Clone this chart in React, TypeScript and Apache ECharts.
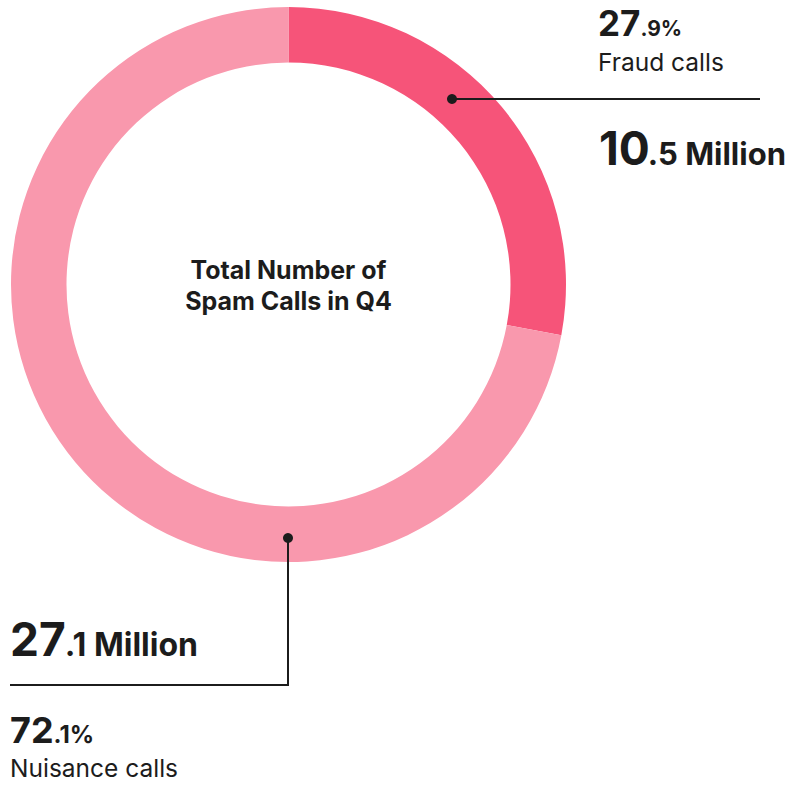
import React, { useEffect, useRef } from "react";
import * as echarts from "echarts";

const categories = ["Fraud calls", "Nuisance calls"];
const valuesMillion = [10.5, 27.1];
const percentInt = ["27", "72"];
const percentDec = [".9%", ".1%"];
const millionInt = ["10", "27"];
const millionDec = [".5 Million", ".1 Million"];
const colors = ["#F65479", "#F998AD"];
const centerTitle = "Total Number of\nSpam Calls in Q4";

const FONT = "Inter, 'Noto Sans', sans-serif";
const INK = "#1c1c1c";

function measure(text: string, size: number, weight: string) {
  const c = document.createElement("canvas").getContext("2d")!;
  c.font = `${weight} ${size}px Inter`;
  return c.measureText(text).width;
}

function txt(x: number, baseline: number, text: string, size: number, weight: string, align = "left") {
  return {
    type: "text",
    z: 100,
    x,
    y: baseline - size * 0.36,
    style: {
      text,
      font: `${weight} ${size}px ${FONT}`,
      fill: INK,
      align,
      verticalAlign: "middle",
    },
    silent: true,
  };
}

function twoPart(x: number, baseline: number, a: string, sa: number, b: string, sb: number, gap: number) {
  const w = measure(a, sa, "700");
  return [txt(x, baseline, a, sa, "700"), txt(x + w + gap, baseline, b, sb, "700")];
}

export default function App() {
  const ref = useRef<HTMLDivElement>(null);
  useEffect(() => {
    document.body.style.margin = "0";
    const chart = echarts.init(ref.current!, null, { renderer: "svg" });
    const cx = 288.5;
    const cy = 284.5;
    const lineStyle = { stroke: "#1c1c1c", lineWidth: 2 };
    chart.setOption({
      animation: false,
      series: [
        {
          type: "pie",
          center: [cx, cy],
          radius: [222, 277.5],
          startAngle: 90,
          clockwise: true,
          silent: true,
          z: 1,
          label: { show: false },
          labelLine: { show: false },
          emphasis: { disabled: true },
          data: categories.map((c, i) => ({
            name: c,
            value: valuesMillion[i],
            itemStyle: { color: colors[i] },
          })),
        },
      ],
      graphic: [
        { type: "text", z: 100, x: cx, y: 285, style: { text: centerTitle, font: `700 25px ${FONT}`, fill: INK, align: "center", verticalAlign: "middle", lineHeight: 31 } },
        // Fraud annotation
        { type: "line", z: 100, shape: { x1: 452, y1: 99, x2: 760, y2: 99 }, style: lineStyle },
        { type: "circle", z: 101, shape: { cx: 452, cy: 99, r: 5 }, style: { fill: INK } },
        ...twoPart(598, 36, percentInt[0], 35, percentDec[0], 21, 0),
        txt(598, 71, categories[0], 24.5, "400"),
        ...twoPart(599, 165, millionInt[0], 46, millionDec[0], 31, -2),
        // Nuisance annotation
        { type: "polyline", z: 100, shape: { points: [[288, 538], [288, 685], [10, 685]] }, style: { ...lineStyle, fill: null } },
        { type: "circle", z: 101, shape: { cx: 288, cy: 538, r: 5 }, style: { fill: INK } },
        ...twoPart(10, 656, millionInt[1], 46, millionDec[1], 32, -1),
        ...twoPart(10, 743, percentInt[1], 36, percentDec[1], 24, 0),
        txt(10, 777, categories[1], 24.5, "400"),
      ],
    });
    return () => chart.dispose();
  }, []);
  return <div ref={ref} style={{ width: 799, height: 785 }} />;
}
